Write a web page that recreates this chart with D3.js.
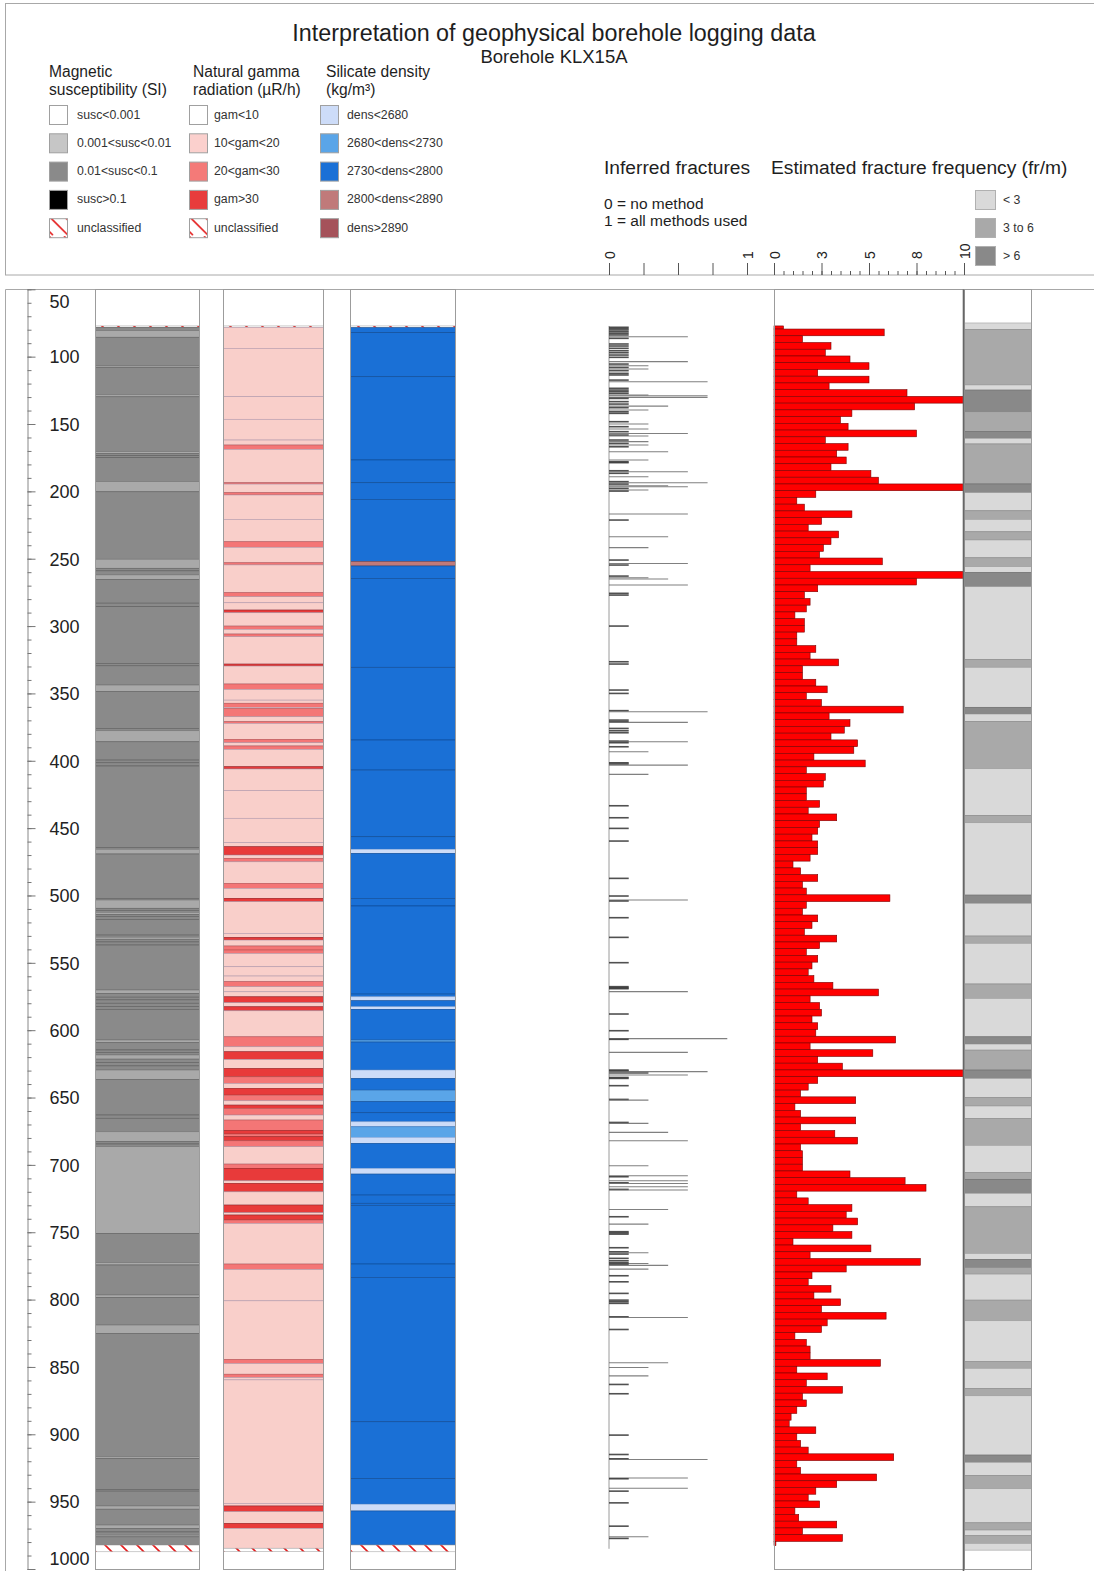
<!DOCTYPE html>
<html>
<head>
<meta charset="utf-8">
<title>Interpretation of geophysical borehole logging data</title>
<script src="https://cdn.jsdelivr.net/npm/d3@7"></script>
<style>
    body { margin: 0; background: #fff; }
    svg text { font-family: "Liberation Sans", Arial, sans-serif; fill: #1e1e1e; }
</style>
</head>
<body>
<div id="chart"></div>
<script>

// ---- data (depth in m, class index) ----

// magnetic susceptibility: 0 <0.001, 1 0.001-0.01, 2 0.01-0.1, 3 >0.1, 4 unclassified
let magIntervals = [
    [77.2,4],[78.2,2],[80.7,1],[85.6,2],[106.9,1],[107.9,2],[128.3,1],[129.8,2],[170.5,1],[172.0,2],
    [173.5,2],[175.0,2],[192.8,1],[200.3,2],[250.4,1],[257.1,2],[259.0,2],[262.0,1],[265.3,2],[283.0,2],
    [285.6,2],[327.7,2],[329.5,2],[343.8,1],[348.7,2],[375.9,2],[377.7,1],[385.9,2],[399.5,2],[401.5,2],
    [403.9,2],[464.3,2],[465.7,1],[469.2,2],[502.1,2],[503.4,1],[509.5,2],[511.0,2],[512.5,1],[514.0,2],
    [515.5,2],[517.7,2],[529.4,2],[531.0,1],[532.5,2],[534.5,2],[536.8,2],[570.2,1],[572.7,2],[575.5,2],
    [577.5,2],[580.0,2],[582.5,2],[584.5,2],[607.3,1],[609.3,2],[614.7,2],[616.5,2],[618.4,1],[621.5,2],
    [624.0,2],[626.5,2],[629.6,1],[636.5,2],[663.0,2],[665.4,2],[675.4,1],[682.8,2],[684.5,2],[686.5,1],
    [750.8,2],[772.6,1],[774.3,2],[796.6,1],[798.3,2],[818.9,1],[825.1,2],[916.7,1],[918.0,2],[940.9,2],
    [942.2,2],[953.2,1],[955.6,2],[967.4,1],[969.9,2],[972.5,2],[974.9,1],[976.1,2],[982.2,4]
];
let magBottom = 987.2;

// natural gamma: 0 <10, 1 10-20, 2 20-30, 3 >30, 4 unclassified
let gamIntervals = [
    [77.2,4],[78.2,1],[93.8,1],[129.7,1],[146.5,1],[161.9,1],[165.6,2],[168.8,1],[193.6,2],[194.6,1],
    [201.0,2],[202.7,1],[220.8,1],[237.4,2],[241.5,1],[253.0,2],[254.6,1],[275.2,2],[278.2,1],[282.7,1],
    [288.1,3],[290.1,1],[300.0,2],[302.4,1],[305.9,2],[307.9,1],[328.2,3],[329.7,1],[343.0,2],[347.0,1],
    [355.0,1],[357.3,2],[360.3,1],[361.3,2],[367.3,1],[371.0,2],[372.2,1],[384.1,2],[386.6,1],[389.0,2],
    [391.5,1],[404.4,3],[406.1,1],[422.2,1],[442.7,1],[460.8,1],[463.8,3],[470.0,1],[472.4,2],[475.0,1],
    [491.0,2],[494.7,1],[502.1,3],[504.6,1],[528.1,1],[531.1,3],[533.1,1],[537.5,2],[540.5,2],[543.0,1],
    [552.9,1],[559.8,1],[564.0,2],[567.7,1],[571.5,1],[575.2,3],[579.6,1],[582.6,3],[585.6,1],[604.9,2],
    [612.3,1],[616.0,3],[621.7,1],[628.4,3],[634.6,2],[639.5,1],[643.2,3],[648.2,2],[652.4,1],[655.6,3],
    [658.0,2],[663.0,1],[666.7,2],[674.6,3],[677.1,2],[679.1,3],[682.1,2],[686.5,1],[699.4,2],[702.6,3],
    [711.8,1],[713.7,3],[720.0,1],[729.8,3],[735.5,1],[737.2,3],[740.9,2],[743.4,1],[773.6,2],[777.6,1],
    [800.9,1],[844.4,2],[847.4,1],[855.4,2],[857.8,1],[859.6,1],[951.3,1],[953.2,3],[957.4,1],[966.1,3],
    [969.8,1],[984.6,4]
];
let gamBottom = 987.1;

// silicate density: 0 <2680, 1 2680-2730, 2 2730-2800, 3 2800-2890, 4 >2890, 5 unclassified
let denIntervals = [
    [77.2,5],[78.5,2],[82.2,2],[114.9,2],[176.7,2],[193.6,2],[205.9,2],[252.2,3],[255.4,2],[264.6,2],
    [330.6,2],[384.6,2],[406.9,2],[456.4,2],[465.7,0],[468.7,2],[502.1,2],[507.8,2],[573.2,2],[575.2,0],
    [578.1,2],[582.6,0],[584.5,2],[607.3,1],[608.8,2],[629.6,0],[635.8,2],[644.5,1],[653.1,2],[661.3,2],
    [668.0,0],[671.7,1],[679.6,0],[684.0,2],[702.6,0],[706.8,2],[722.4,2],[728.5,2],[730.0,2],[773.6,2],
    [783.5,2],[890.7,2],[932.8,2],[951.9,0],[956.9,2],[982.2,5]
];
let denBottom = 987.2;

// inferred fractures: [depth, number of methods out of 7]
let fractures = [
    [78.2,1],[79.2,1],[80.2,1],[81.5,1],[82.7,1],[83.9,1],[85.2,4],[86.4,1],[90.6,1],[92.1,1],
    [93.8,1],[95.6,1],[97.1,1],[98.8,1],[100.5,1],[103.7,4],[105.5,1],[106.7,2],[108,1],[109.2,2],
    [110.4,1],[112.4,1],[113.6,1],[117.4,1],[118.6,5],[123.5,1],[124.8,1],[126,1],[127.3,1],[128.5,2],
    [129,5],[130.2,5],[131,1],[133.4,1],[135.2,1],[136.7,3],[137.9,1],[139.6,2],[140.9,1],[142.1,1],
    [148.3,1],[150,2],[152,1],[153.7,2],[155.7,1],[157,4],[158.2,1],[158.9,2],[161.9,1],[163.1,2],
    [164.4,1],[165.6,2],[166.9,1],[170.6,3],[176.7,2],[178,1],[178.7,1],[184.7,1],[185.4,4],[186.6,1],
    [189.1,2],[192.8,1],[193.6,5],[194.6,1],[195.8,3],[196.6,4],[197.8,1],[199,2],[199.8,1],[216.8,4],
    [221.3,1],[233.7,3],[241.8,2],[251,1],[253.5,4],[254.7,1],[262.9,1],[264.1,2],[265.1,3],[269.5,4],
    [275.7,1],[277,1],[300,1],[326.5,1],[328.2,1],[347.5,1],[350,1],[362.8,1],[363.6,5],[369.8,1],
    [371,1],[371.5,4],[376,1],[377.7,1],[379.2,1],[385.4,1],[385.9,4],[386.6,1],[389.6,1],[393.3,2],
    [401.5,1],[402.4,1],[403.2,4],[410.1,2],[433.4,1],[442.3,1],[450.2,1],[459.6,1],[487.3,1],[500.4,1],
    [503.4,4],[504.1,1],[516.5,1],[531.1,1],[549.9,1],[567.7,1],[568.5,1],[569.2,1],[571.4,4],[588,1],
    [600.4,1],[606.3,6],[606.8,1],[616.5,4],[629.6,1],[630.3,1],[630.8,5],[631.3,2],[632.1,2],[633.3,4],
    [635.1,1],[635.8,1],[641.2,1],[651.4,1],[651.9,2],[668.5,1],[669.2,2],[675.9,3],[682.1,4],[700.6,2],
    [708.1,4],[708.8,1],[711.8,4],[713.3,1],[713.8,4],[716.2,4],[718.2,1],[718.7,4],[733.1,3],[738.5,1],
    [744,2],[749.6,1],[750.5,1],[751.4,1],[761.5,1],[764.5,1],[765.2,2],[766.2,1],[769.4,1],[771.2,1],
    [772.7,1],[773.2,2],[773.7,1],[774.6,3],[777.4,2],[782.3,1],[786.8,1],[795.4,1],[800.4,1],[801.6,1],
    [802.8,1],[812.8,1],[813.3,4],[822.2,1],[846.9,3],[850.4,2],[856.6,2],[863,1],[869.9,1],[900.6,1],
    [915,1],[918.2,1],[918.7,5],[932.5,4],[933,1],[940,4],[942.2,1],[950.9,1],[968.2,1],[976.1,2],
    [977.3,1]
];
let fractureMethods = 7;

// estimated fracture frequency (fr/m), 5 m bins
let freqStart = 77.2, freqFirstBin = 79.5, freqStep = 5, freqEnd = 982.7;
let freqValues = [
    0.5, 5.8, 1.5, 3.0, 2.7, 4.0, 5.0, 2.3, 5.0, 2.9, 7.0, 10, 7.4, 4.1, 3.5, 3.9, 7.5, 2.7, 3.9, 3.3,
    3.8, 3.0, 5.1, 5.5, 10, 2.2, 1.2, 1.6, 4.1, 2.5, 1.8, 3.4, 3.0, 2.6, 2.4, 5.7, 1.9, 10,
    7.5, 2.3, 1.6, 1.9, 1.7, 1.1, 1.6, 1.6, 1.2, 1.2, 2.2, 1.9, 3.4, 1.5, 1.5, 2.2, 2.8, 1.7, 2.5, 6.8,
    2.9, 4.0, 3.7, 3.0, 4.4, 4.2, 2.1, 4.8, 1.7, 2.7, 2.6, 1.7, 1.7, 2.4, 1.8, 3.3, 2.4, 2.3, 2.0, 2.3,
    2.3, 1.9, 1.0, 1.4, 2.3, 1.5, 1.7, 6.1,
    1.7, 1.5, 2.3, 2.0, 1.6, 3.3, 2.4, 1.7, 2.3, 2.0, 1.8, 2.1, 3.1, 5.5, 1.9, 2.4, 2.5, 2.0, 2.3, 2.2,
    6.4, 1.9, 5.2, 2.3, 3.6, 10, 2.3, 1.8, 1.4, 4.3, 1.1, 1.4, 4.3, 1.4, 3.2, 4.4, 1.4, 1.5, 1.5, 1.5,
    4.0, 6.9, 8.0, 1.2, 1.8, 4.1, 3.8, 4.4, 3.1,
    4.1, 1.0, 5.1, 1.9, 7.7, 3.8, 2.0, 1.8, 3.0, 2.1, 3.5, 2.5, 5.9, 2.8, 2.5, 1.1, 1.7, 1.9, 1.9, 5.6,
    1.2, 2.8, 1.7, 3.6, 1.5, 1.7, 1.2, 0.9, 0.8, 2.2, 1.2, 1.4, 1.8, 6.3, 1.2, 1.4, 5.4, 3.3, 2.2, 1.8,
    2.4, 1.1, 1.3, 3.3, 1.5, 3.6, 0.1
];

// fracture frequency class: 0 <3, 1 3-6, 2 >6
let freqClassIntervals = [
    [75,0],[79.7,1],[121,0],[124.8,2],[140.9,1],[155.7,2],[160.6,0],[164.8,1],[194.5,2],[201,0],
    [214.4,1],[220.8,0],[230,1],[236.1,0],[249.3,1],[255.9,0],[260.1,2],[270.8,0],[324.7,1],[330.6,0],
    [360.3,2],[365.3,0],[370.7,1],[405.9,0],[440.5,1],[446,0],[499.7,2],[505.8,0],[530.1,1],[535.5,0],
    [565.7,1],[576.4,0],[604.9,2],[610.3,0],[614.8,1],[629.6,2],[635.8,0],[649.9,1],[656.3,0],[665.5,1],
    [685.5,0],[705.8,1],[710.7,2],[721.1,0],[731.1,1],[765.7,0],[770.1,2],[776.1,1],[781.1,0],[800.4,1],
    [815.7,0],[846.1,1],[851,0],[865.9,1],[871.4,0],[915.4,2],[920.8,0],[930.5,1],[940.4,0],[965.7,1],
    [971.1,0],[975.3,1],[981,0]
];
let freqClassBottom = 986;

// legend texts
let magLabels = ["susc<0.001", "0.001<susc<0.01", "0.01<susc<0.1", "susc>0.1", "unclassified"];
let gamLabels = ["gam<10", "10<gam<20", "20<gam<30", "gam>30", "unclassified"];
let denLabels = ["dens<2680", "2680<dens<2730", "2730<dens<2800", "2800<dens<2890", "dens>2890"];
let freqClassLabels = ["< 3", "3 to 6", "> 6"];
let fracTicks = [0, 0.25, 0.5, 0.75, 1];
let freqTicks = [0, 2.5, 5, 7.5, 10];


class BoreholeLog {

    constructor(_parentElement) {
        this.parentElement = _parentElement;
        this.initVis();
    }

    initVis() {
        let vis = this;

        vis.width = 1094;
        vis.height = 1571;

        vis.svg = d3.select("#" + vis.parentElement).append("svg")
            .attr("width", vis.width)
            .attr("height", vis.height);

        vis.magColors = ["#ffffff", "#a9a9a9", "#8a8a8a", "#000000", "url(#hatch)"];
        vis.magStroke = ["#888", "#7a7a7a", "#5e5e5e", "#000", "#aaa"];
        vis.magKey = ["#ffffff", "#c6c6c6", "#8a8a8a", "#000000", "url(#hatchKey)"];
        vis.gamColors = ["#ffffff", "#f9cfca", "#f47676", "#e83a3a", "url(#hatch)"];
        vis.gamStroke = ["#999", "#b39aac", "#b85454", "#9a2020", "#aaa"];
        vis.gamKey = ["#ffffff", "#fbd0cd", "#f47a78", "#e83c3c", "url(#hatchKey)"];
        vis.denColors = ["#cddcf8", "#5aa5e8", "#1a70d6", "#c07a7a", "#a5525a", "url(#hatch)"];
        vis.denStroke = ["#8fb0e0", "#2d6fb8", "#0e4a94", "#8a4a4a", "#6a2a30", "#aaa"];
        vis.freqColors = ["#d9d9d9", "#a9a9a9", "#898989"];
        vis.freqStroke = ["#a0a0a0", "#888", "#6a6a6a"];

        // hatch patterns for unclassified
        let defs = vis.svg.append("defs");
        let hatch = defs.append("pattern")
            .attr("id", "hatch")
            .attr("patternUnits", "userSpaceOnUse")
            .attr("width", 16)
            .attr("height", 16);
        hatch.append("rect").attr("width", 16).attr("height", 16).attr("fill", "#fff");
        hatch.append("path")
            .attr("d", "M0,0L16,16M-4,12L4,20M12,-4L20,4")
            .attr("stroke", "#e41a1a")
            .attr("stroke-width", 1.6);

        let hatchKey = defs.append("pattern")
            .attr("id", "hatchKey")
            .attr("patternUnits", "userSpaceOnUse")
            .attr("x", 49).attr("y", 218)
            .attr("width", 20).attr("height", 20);
        hatchKey.append("rect").attr("width", 20).attr("height", 20).attr("fill", "#fff");
        hatchKey.append("path")
            .attr("d", "M0,0L19,19M15,0L19,4M0,15L4,19")
            .attr("stroke", "#e41a1a")
            .attr("stroke-width", 1.6);

        // Scales
        vis.y = d3.scaleLinear()
            .domain([50, 1000])
            .range([289.3, 1569]);

        vis.xFrac = d3.scaleLinear()
            .domain([0, 1])
            .range([609, 747]);

        vis.xFreq = d3.scaleLinear()
            .domain([0, 10])
            .range([774, 964]);

        vis.drawHeader();
        vis.drawPanel();
    }


    drawHeader() {
        let vis = this;

        vis.svg.append("rect")
            .attr("x", 5.5).attr("y", 3.5)
            .attr("width", 1120).attr("height", 271.5)
            .attr("fill", "none")
            .attr("stroke", "#a8a8a8");

        vis.svg.append("text")
            .attr("x", 554).attr("y", 41)
            .attr("text-anchor", "middle")
            .style("font-size", "23.3px")
            .text("Interpretation of geophysical borehole logging data");

        vis.svg.append("text")
            .attr("x", 554).attr("y", 63)
            .attr("text-anchor", "middle")
            .style("font-size", "18.5px")
            .text("Borehole KLX15A");

        let groups = [
            { x: 49, title: ["Magnetic", "susceptibility (SI)"], labels: magLabels, colors: vis.magKey, labelX: 77 },
            { x: 189, title: ["Natural gamma", "radiation (\u00b5R/h)"], labels: gamLabels, colors: vis.gamKey, labelX: 214 },
            { x: 320, title: ["Silicate density", "(kg/m\u00b3)"], labels: denLabels, colors: vis.denColors, labelX: 347 }
        ];
        let titleX = [49, 193, 326];

        groups.forEach(function (grp, gi) {
            let g = vis.svg.append("g");

            g.selectAll(".ltitle")
                .data(grp.title)
                .join("text")
                .attr("x", titleX[gi])
                .attr("y", (d, i) => 77 + i * 17.5)
                .style("font-size", "15.6px")
                .text(d => d);

            let rows = g.selectAll(".row")
                .data(grp.labels)
                .join("g")
                .attr("transform", (d, i) => "translate(0," + (105 + i * 28.3) + ")");

            rows.append("rect")
                .attr("x", grp.x + 0.5).attr("y", 0.5)
                .attr("width", 18).attr("height", 19)
                .attr("fill", (d, i) => grp.colors[i])
                .attr("stroke", "#a0a0a0");

            rows.append("text")
                .attr("x", grp.labelX)
                .attr("y", 13.5)
                .style("font-size", "12.3px")
                .style("fill", "#333")
                .text(d => d);
        });

        // fracture legends
        vis.svg.append("text")
            .attr("x", 604).attr("y", 174)
            .style("font-size", "19.2px")
            .text("Inferred fractures");

        vis.svg.append("text")
            .attr("x", 771).attr("y", 174)
            .style("font-size", "19.2px")
            .text("Estimated fracture frequency (fr/m)");

        vis.svg.selectAll(".methodNote")
            .data(["0 = no method", "1 = all methods used"])
            .join("text")
            .attr("x", 604)
            .attr("y", (d, i) => 208.5 + i * 17)
            .style("font-size", "15.5px")
            .text(d => d);

        let classRows = vis.svg.append("g").selectAll("g")
            .data(freqClassLabels)
            .join("g")
            .attr("transform", (d, i) => "translate(975," + (190 + i * 28) + ")");

        classRows.append("rect")
            .attr("x", 0.5).attr("y", 0.5)
            .attr("width", 20).attr("height", 19)
            .attr("fill", (d, i) => vis.freqColors[i])
            .attr("stroke", "#b0b0b0");

        classRows.append("text")
            .attr("x", 28).attr("y", 14)
            .style("font-size", "12.3px")
            .style("fill", "#333")
            .text(d => d);

        // scale axes sitting on the header bottom
        let fracAxis = d3.axisTop(vis.xFrac)
            .tickValues(fracTicks)
            .tickSize(12)
            .tickFormat(d => (d === 0 || d === 1) ? d : "");

        let fracG = vis.svg.append("g")
            .attr("transform", "translate(0,275)")
            .call(fracAxis);

        let freqMinor = d3.axisTop(vis.xFreq)
            .tickValues(d3.range(0, 10.01, 0.5))
            .tickSize(4)
            .tickFormat("");

        vis.svg.append("g")
            .attr("transform", "translate(0,275)")
            .call(freqMinor)
            .call(g => g.select(".domain").remove())
            .selectAll("line").attr("stroke", "#555");

        let freqAxis = d3.axisTop(vis.xFreq)
            .tickValues(freqTicks)
            .tickSize(12)
            .tickFormat(d3.format(".0f"));

        let freqG = vis.svg.append("g")
            .attr("transform", "translate(0,275)")
            .call(freqAxis);

        [fracG, freqG].forEach(function (g) {
            g.select(".domain").remove();
            g.selectAll("line").attr("stroke", "#555");
            g.selectAll("text")
                .attr("y", 0)
                .attr("dy", "0.36em")
                .attr("text-anchor", "start")
                .attr("transform", "translate(0,-16) rotate(-90)")
                .style("font-size", "14px")
                .style("fill", "#222");
        });
    }


    drawPanel() {
        let vis = this;

        // outer panel lines
        vis.svg.append("path")
            .attr("d", "M5.5,1575V289.5H1100")
            .attr("fill", "none")
            .attr("stroke", "#a8a8a8");

        // depth axis
        let minorAxis = d3.axisRight(vis.y)
            .tickValues(d3.range(50, 1001, 10))
            .tickSize(4)
            .tickSizeOuter(0)
            .tickFormat("");

        vis.svg.append("g")
            .attr("transform", "translate(27.5,0)")
            .call(minorAxis)
            .call(g => g.select(".domain").attr("stroke", "#888"))
            .selectAll("line").attr("stroke", "#777");

        let majorAxis = d3.axisRight(vis.y)
            .tickValues(d3.range(50, 1001, 50))
            .tickSize(8)
            .tickPadding(14)
            .tickFormat(d3.format("d"));

        let depthG = vis.svg.append("g")
            .attr("transform", "translate(27.5,0)")
            .call(majorAxis);

        depthG.select(".domain").remove();
        depthG.selectAll("line").attr("stroke", "#777");
        depthG.selectAll("text")
            .style("font-size", "18px")
            .style("fill", "#222")
            .attr("dy", d => d === 50 ? "1em" : (d === 1000 ? "-0.25em" : "0.35em"));

        // interval columns
        vis.drawIntervals(magIntervals, magBottom, 95, 199, vis.magColors, vis.magStroke);
        vis.drawIntervals(gamIntervals, gamBottom, 223, 323, vis.gamColors, vis.gamStroke);
        vis.drawIntervals(denIntervals, denBottom, 350, 455, vis.denColors, vis.denStroke);
        vis.drawIntervals(freqClassIntervals, freqClassBottom, 964, 1031, vis.freqColors, vis.freqStroke);

        // inferred fractures
        vis.svg.append("line")
            .attr("x1", vis.xFrac(0)).attr("x2", vis.xFrac(0))
            .attr("y1", vis.y(77.2)).attr("y2", vis.y(985))
            .attr("stroke", "#9a9a9a");

        vis.svg.append("g").selectAll("line")
            .data(fractures)
            .join("line")
            .attr("x1", vis.xFrac(0))
            .attr("x2", d => vis.xFrac(d[1] / fractureMethods))
            .attr("y1", d => vis.y(d[0]))
            .attr("y2", d => vis.y(d[0]))
            .attr("stroke", d => d[1] === 1 ? "#333" : "#6a6a6a")
            .attr("stroke-width", d => d[1] === 1 ? 1.6 : 1.1)
            .attr("stroke-opacity", 0.85);

        // fracture frequency bars
        let bins = freqValues.map(function (v, i) {
            let top = i === 0 ? freqStart : freqFirstBin + (i - 1) * freqStep;
            let bottom = Math.min(freqFirstBin + i * freqStep, freqEnd);
            return { top: top, bottom: bottom, value: v };
        });

        vis.svg.append("g").selectAll("rect")
            .data(bins)
            .join("rect")
            .attr("x", vis.xFreq(0))
            .attr("y", d => vis.y(d.top))
            .attr("width", d => vis.xFreq(d.value) - vis.xFreq(0))
            .attr("height", d => vis.y(d.bottom) - vis.y(d.top))
            .attr("fill", "#ff0000")
            .attr("stroke", "#7a0000")
            .attr("stroke-width", 0.6);

        // column frames
        let frames = [[95, 199], [223, 323], [350, 455], [774, 964], [964, 1031]];
        vis.svg.append("g").selectAll("rect")
            .data(frames)
            .join("rect")
            .attr("x", d => d[0] + 0.5)
            .attr("y", 289.5)
            .attr("width", d => d[1] - d[0])
            .attr("height", 1280)
            .attr("fill", "none")
            .attr("stroke", "#9c9c9c");

        vis.svg.append("line")
            .attr("x1", 963.5).attr("x2", 963.5)
            .attr("y1", 289.5).attr("y2", 1571)
            .attr("stroke", "#666")
            .attr("stroke-width", 1.6);
    }


    drawIntervals(data, bottom, x0, x1, fills, strokes) {
        let vis = this;

        let rows = data.map(function (d, i) {
            return {
                top: d[0],
                bottom: i < data.length - 1 ? data[i + 1][0] : bottom,
                c: d[1]
            };
        });

        vis.svg.append("g").selectAll("rect")
            .data(rows)
            .join("rect")
            .attr("x", x0 + 0.5)
            .attr("width", x1 - x0)
            .attr("y", d => vis.y(d.top))
            .attr("height", d => vis.y(d.bottom) - vis.y(d.top))
            .attr("fill", d => fills[d.c])
            .attr("stroke", d => strokes[d.c])
            .attr("stroke-width", 0.6);
    }
}

let boreholeLog = new BoreholeLog("chart");

</script>
</body>
</html>
